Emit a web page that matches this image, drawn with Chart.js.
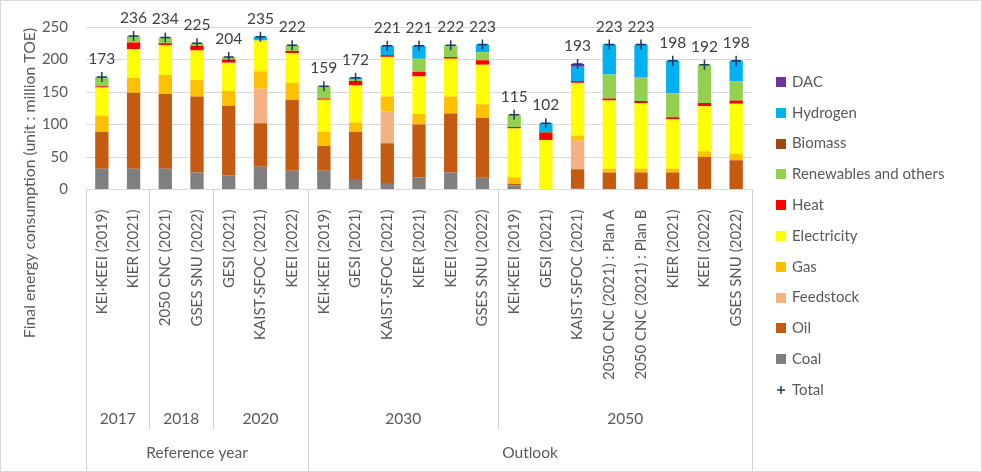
<!DOCTYPE html>
<html>
<head>
<meta charset="utf-8">
<script src="https://cdn.jsdelivr.net/npm/chart.js@4"></script>
<style>
html,body{margin:0;padding:0;background:#fff;}
#wrap{width:982px;height:472px;position:relative;}
</style>
</head>
<body>
<div id="wrap"><canvas id="c" width="982" height="472"></canvas></div>
<script>
// ---- DATA ----
const categories = ["KEI·KEEI (2019)","KIER (2021)","2050 CNC (2021)","GSES SNU (2022)","GESI (2021)","KAIST·SFOC (2021)","KEEI (2022)",
  "KEI·KEEI (2019)","GESI (2021)","KAIST·SFOC (2021)","KIER (2021)","KEEI (2022)","GSES SNU (2022)",
  "KEI·KEEI (2019)","GESI (2021)","KAIST·SFOC (2021)","2050 CNC (2021) : Plan A","2050 CNC (2021) : Plan B","KIER (2021)","KEEI (2022)","GSES SNU (2022)"];
const yearLabels = ["2017","2018","2020","2030","2050"];
const yearCounts = [2,2,3,6,8];
const phaseLabels = ["Reference year","Outlook"];
const phaseCounts = [7,14];

const coal        = [32,32,32,26,22,35,29, 29,16,10,19,26,18, 6,0,1,0,0,0,0,0];
const oil         = [57,117,115,117,107,67,109, 38,73,61,81,91,92, 3,0,30,26,26,26,50,45];
const feedstock   = [0,0,0,0,0,53,0, 0,0,49,0,0,0, 0,0,44,0,0,0,0,0];
const gas         = [25,23,29,26,23,27,26, 22,14,23,16,26,21, 10,0,8,6,6,6,9,10];
const electricity = [43,44,46,45,43,47,46, 49,57,61,58,58,61, 75,76,81,105,101,76,69,77];
const heat        = [2,10,3,7,5,0,3, 2,7,1,7,3,7, 2,11,1,3,3,3,5,5];
const renewables  = [14,10,9,4,4,1,9, 19,2,0,20,18,12, 19,0,0,37,37,37,59,29];
const biomass     = [0,0,0,0,0,0,0, 0,0,2,0,0,0, 0,1,2,0,0,0,0,0];
const hydrogen    = [0,0,0,0,0,5,0, 0,3,14,20,0,12, 0,14,22,46,50,50,0,32];
const dac         = [0,0,0,0,0,0,0, 0,0,0,0,0,0, 0,0,4,0,0,0,0,0];
const totals      = [173,236,234,225,204,235,222, 159,172,221,221,222,223, 115,102,193,223,223,198,192,198];

const yTicks = [0,50,100,150,200,250];
const yTitle = "Final energy consumption (unit : million TOE)";

// ---- STYLE ----
const FONT = "Lato";
const TXT = "#595959";
const series = [
  {label:"Coal", data:coal, color:"#7F7F7F"},
  {label:"Oil", data:oil, color:"#C55A11"},
  {label:"Feedstock", data:feedstock, color:"#F4B183"},
  {label:"Gas", data:gas, color:"#FFC000"},
  {label:"Electricity", data:electricity, color:"#FFFF00"},
  {label:"Heat", data:heat, color:"#FF0000"},
  {label:"Renewables and others", data:renewables, color:"#92D050"},
  {label:"Biomass", data:biomass, color:"#9C4A12"},
  {label:"Hydrogen", data:hydrogen, color:"#00B0F0"},
  {label:"DAC", data:dac, color:"#7030A0"}
];
const totalColor = "#1F3864";

const datasets = series.map(s => ({
  type:'bar', label:s.label, data:s.data, backgroundColor:s.color,
  borderWidth:0, stack:'a', barPercentage:0.42, categoryPercentage:1.0, order:2
}));
datasets.push({
  type:'line', label:'Total', data:totals, showLine:false, stack:'total',
  pointStyle:'cross', pointRadius:5, pointBorderWidth:1.5,
  borderColor:totalColor, backgroundColor:totalColor, order:1
});

const extras = {
  id:'extras',
  afterDraw(chart){
    const ctx = chart.ctx;
    const ca = chart.chartArea;
    const n = categories.length;
    const w = (ca.right - ca.left) / n;
    const bx = i => Math.round(ca.left + i*w) + 0.5;
    ctx.save();
    // separators
    ctx.strokeStyle = "#D0D0D0"; ctx.lineWidth = 1;
    let phaseBounds = [0]; let acc = 0;
    phaseCounts.forEach(c => { acc += c; phaseBounds.push(acc); });
    let yearBounds = [0]; acc = 0;
    yearCounts.forEach(c => { acc += c; yearBounds.push(acc); });
    yearBounds.forEach(b => {
      if (phaseBounds.includes(b)) return;
      ctx.beginPath(); ctx.moveTo(bx(b), ca.bottom); ctx.lineTo(bx(b), 430); ctx.stroke();
    });
    phaseBounds.forEach(b => {
      ctx.beginPath(); ctx.moveTo(bx(b), ca.bottom); ctx.lineTo(bx(b), 472); ctx.stroke();
    });
    // group labels
    ctx.fillStyle = TXT; ctx.font = "15.5px " + FONT; ctx.textAlign = "center"; ctx.textBaseline = "middle";
    for (let i=0;i<yearLabels.length;i++){
      const cx = (ca.left + yearBounds[i]*w + ca.left + yearBounds[i+1]*w)/2;
      ctx.fillText(yearLabels[i], cx, 419);
    }
    for (let i=0;i<phaseLabels.length;i++){
      const cx = (ca.left + phaseBounds[i]*w + ca.left + phaseBounds[i+1]*w)/2;
      ctx.fillText(phaseLabels[i], cx, 453);
    }
    // y title
    ctx.save(); ctx.translate(30, 183); ctx.rotate(-Math.PI/2);
    ctx.font = "15.8px " + FONT;
    ctx.fillText(yTitle, 0, 0); ctx.restore();
    // totals labels
    const meta = chart.getDatasetMeta(datasets.length-1);
    ctx.fillStyle = "#404040"; ctx.font = "15.5px " + FONT;
    meta.data.forEach((pt, i) => {
      const y = Math.max(pt.y - 18, 13);
      ctx.fillText(String(totals[i]), pt.x, y);
    });
    // legend
    ctx.textAlign = "left"; ctx.font = "15px " + FONT; ctx.fillStyle = TXT;
    const leg = series.slice().reverse();
    leg.forEach((s, i) => {
      const y = 82 + i*30.8;
      ctx.fillStyle = s.color; ctx.fillRect(776, Math.round(y-5), 10, 10);
      ctx.fillStyle = TXT; ctx.fillText(s.label, 792, y);
    });
    const ty = 82 + leg.length*30.8;
    ctx.strokeStyle = totalColor; ctx.lineWidth = 1.5;
    ctx.beginPath(); ctx.moveTo(777, ty); ctx.lineTo(785, ty); ctx.moveTo(781, ty-4); ctx.lineTo(781, ty+4); ctx.stroke();
    ctx.fillStyle = TXT; ctx.fillText("Total", 792, ty);
    // outer border
    ctx.strokeStyle = "#D9D9D9"; ctx.lineWidth = 1;
    ctx.strokeRect(0.5, 0.5, 981, 471);
    ctx.restore();
  }
};

new Chart(document.getElementById('c'), {
  data: { labels: categories, datasets },
  options: {
    responsive:false, animation:false, devicePixelRatio:1,
    layout:{ padding:{ top:16.5, right:230, bottom:0, left:0 } },
    plugins:{ legend:{display:false}, tooltip:{enabled:false} },
    scales:{
      x:{ stacked:true, offset:true,
          grid:{display:false}, border:{display:false},
          ticks:{ autoSkip:false, maxRotation:90, minRotation:90, padding:12,
                  font:{family:FONT, size:15}, color:TXT },
          afterFit(s){ s.height = 472 - 189.5; } },
      y:{ stacked:true, min:0, max:250,
          afterBuildTicks(s){ s.ticks = yTicks.map(v => ({value:v})); },
          ticks:{ padding:18, font:{family:FONT, size:15}, color:TXT },
          grid:{ color:"#D9D9D9", drawTicks:false }, border:{display:false},
          afterFit(s){ s.width = 86; } }
    }
  },
  plugins:[extras]
});
</script>
</body>
</html>
